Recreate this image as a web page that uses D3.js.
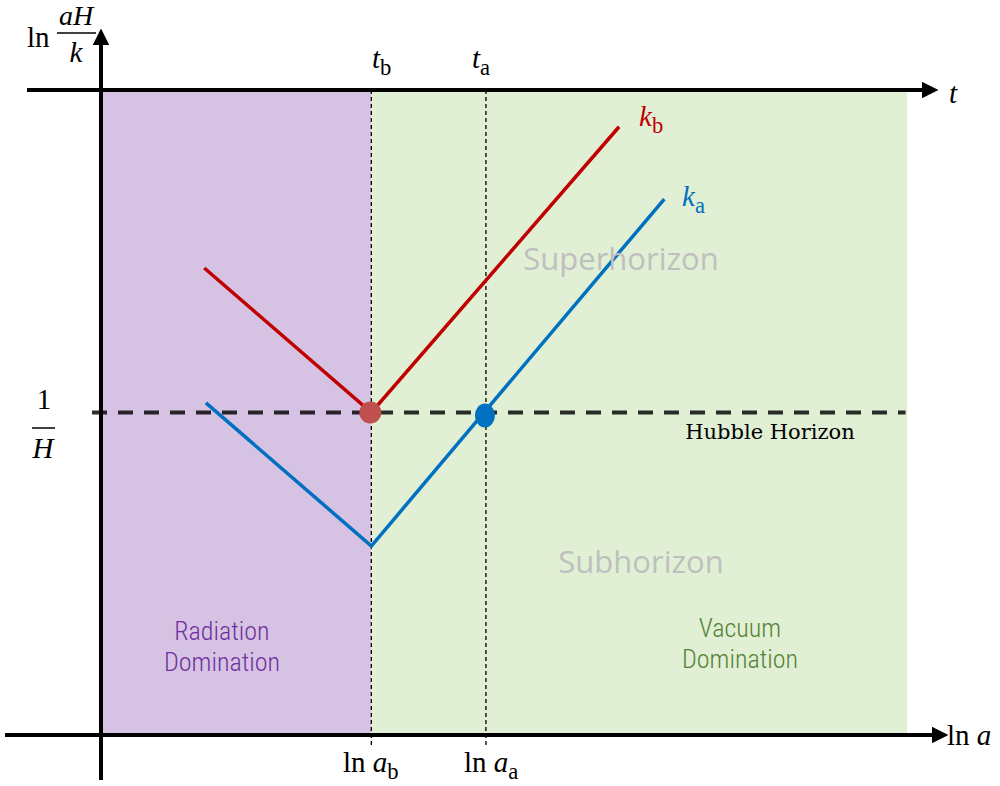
<!DOCTYPE html>
<html>
<head>
<meta charset="utf-8">
<script src="https://cdn.jsdelivr.net/npm/d3@7"></script>
<style>
  body { margin: 0; background: #fff; }
  svg text { font-family: "Liberation Serif", serif; }
</style>
</head>
<body>
<div id="chart"></div>
<script>
// conceptual coordinates: x = ln a, y = ln(aH/k)
const lnAb = 3.35;
const lnAa = 4.77;
const hubble = 5;

const kbX = [1.28, 3.35, 6.42];
const kbY = [7.24, 5.0, 9.43];
const kaX = [1.30, 3.35, 6.98];
const kaY = [5.15, 2.93, 8.31];

const regions = [
  { name: "rad", from: 0, to: lnAb, fill: "#d6c2e3" },
  { name: "vac", from: lnAb, to: 9.99, fill: "#e1efd4" }
];

const width = 1000, height = 786;

const x = d3.scaleLinear().domain([0, 10]).range([101, 908]);
const y = d3.scaleLinear().domain([0, 10]).range([735, 90]);

const svg = d3.select('#chart').append('svg')
  .attr('width', width)
  .attr('height', height);

const defs = svg.append('defs');
defs.append('marker')
  .attr('id', 'arrow')
  .attr('viewBox', '0 0 10 10')
  .attr('refX', 2).attr('refY', 5)
  .attr('markerWidth', 4.2).attr('markerHeight', 4.2)
  .attr('orient', 'auto')
  .append('path').attr('d', 'M0,0 L10,5 L0,10 z').attr('fill', '#000');

// background regions
svg.append('g').selectAll('rect')
  .data(regions)
  .enter().append('rect')
  .attr('x', d => x(d.from))
  .attr('y', y(10))
  .attr('width', d => x(d.to) - x(d.from))
  .attr('height', y(0) - y(10))
  .attr('fill', d => d.fill);

// vertical dashed guides
svg.append('g').selectAll('line')
  .data([lnAb, lnAa])
  .enter().append('line')
  .attr('x1', d => x(d)).attr('x2', d => x(d))
  .attr('y1', y(10)).attr('y2', y(0) + 12)
  .attr('stroke', '#000')
  .attr('stroke-width', 1.3)
  .attr('stroke-dasharray', '4,3');

// hubble horizon
svg.append('line')
  .attr('x1', x(0) - 9).attr('x2', x(9.97))
  .attr('y1', y(hubble)).attr('y2', y(hubble))
  .attr('stroke', '#000')
  .attr('stroke-opacity', 0.82)
  .attr('stroke-width', 4)
  .attr('stroke-dasharray', '15,11');

// axes
const axes = svg.append('g').attr('stroke', '#000').attr('stroke-width', 4);
axes.append('line')
  .attr('x1', x(0)).attr('y1', 780).attr('x2', x(0)).attr('y2', 42)
  .attr('marker-end', 'url(#arrow)');
axes.append('line')
  .attr('x1', 27).attr('y1', y(10)).attr('x2', 925).attr('y2', y(10))
  .attr('marker-end', 'url(#arrow)');
axes.append('line')
  .attr('x1', 5).attr('y1', y(0)).attr('x2', 935).attr('y2', y(0))
  .attr('marker-end', 'url(#arrow)');

// k lines
const line = d3.line().x(d => x(d[0])).y(d => y(d[1]));
const series = [
  { name: 'b', xs: kbX, ys: kbY, color: '#c00000' },
  { name: 'a', xs: kaX, ys: kaY, color: '#0070c0' }
];
svg.append('g').selectAll('path')
  .data(series)
  .enter().append('path')
  .attr('d', d => line(d.xs.map((v, i) => [v, d.ys[i]])))
  .attr('fill', 'none')
  .attr('stroke', d => d.color)
  .attr('stroke-width', 3.5);

// crossing points
svg.append('ellipse')
  .attr('cx', x(lnAb) - 1).attr('cy', y(hubble))
  .attr('rx', 11).attr('ry', 11)
  .attr('fill', '#c0504d');
svg.append('ellipse')
  .attr('cx', x(lnAa) - 1).attr('cy', y(hubble) + 3)
  .attr('rx', 10).attr('ry', 12)
  .attr('fill', '#0070c0');

// math labels
function mathLabel(px, py, base, sub, color, size) {
  const s = size || 29;
  const t = svg.append('text')
    .attr('x', px).attr('y', py)
    .attr('fill', color || '#000')
    .style('font-size', s + 'px');
  base.forEach(p => {
    t.append('tspan').text(p.t).style('font-style', p.i ? 'italic' : 'normal');
  });
  if (sub) {
    t.append('tspan').text(sub)
      .attr('dy', 7)
      .style('font-size', (s * 0.78) + 'px');
  }
  return t;
}

mathLabel(372, 68, [{ t: 't', i: true }], 'b');
mathLabel(472, 68, [{ t: 't', i: true }], 'a');
mathLabel(949, 103, [{ t: 't', i: true }], null);
mathLabel(947, 745, [{ t: 'ln ' }, { t: 'a', i: true }], null);
mathLabel(343, 772, [{ t: 'ln ' }, { t: 'a', i: true }], 'b');
mathLabel(464, 772, [{ t: 'ln ' }, { t: 'a', i: true }], 'a');
mathLabel(639, 126, [{ t: 'k', i: true }], 'b', '#c00000');
mathLabel(682, 206, [{ t: 'k', i: true }], 'a', '#0070c0');

// y label ln(aH/k)
svg.append('text').attr('x', 27).attr('y', 47).style('font-size', '29px').text('ln');
svg.append('text').attr('x', 76).attr('y', 25).attr('text-anchor', 'middle')
  .style('font-size', '28px').style('font-style', 'italic').text('aH');
svg.append('line').attr('x1', 57).attr('x2', 96).attr('y1', 33).attr('y2', 33)
  .attr('stroke', '#000').attr('stroke-width', 1.5);
svg.append('text').attr('x', 76).attr('y', 62).attr('text-anchor', 'middle')
  .style('font-size', '29px').style('font-style', 'italic').text('k');

// 1/H label
svg.append('text').attr('x', 44).attr('y', 409).attr('text-anchor', 'middle')
  .style('font-size', '29px').text('1');
svg.append('line').attr('x1', 32).attr('x2', 55).attr('y1', 428).attr('y2', 428)
  .attr('stroke', '#000').attr('stroke-width', 1.5);
svg.append('text').attr('x', 43).attr('y', 458).attr('text-anchor', 'middle')
  .style('font-size', '29px').style('font-style', 'italic').text('H');

// region texts
const sans = '"Open Sans", Lato, sans-serif';
svg.append('text').attr('x', 770).attr('y', 439).attr('text-anchor', 'middle')
  .style('font-family', '"DejaVu Serif", serif')
  .style('font-size', '21px').text('Hubble Horizon');
svg.append('text').attr('x', 621).attr('y', 270).attr('text-anchor', 'middle')
  .style('font-family', sans).style('font-size', '31px').attr('fill', '#bfbfbf')
  .text('Superhorizon');
svg.append('text').attr('x', 641).attr('y', 573).attr('text-anchor', 'middle')
  .style('font-family', sans).style('font-size', '31px').attr('fill', '#bfbfbf')
  .text('Subhorizon');

const eras = [
  { lines: ['Radiation', 'Domination'], cx: 222, y0: 640, color: '#7030a0' },
  { lines: ['Vacuum', 'Domination'], cx: 740, y0: 637, color: '#548235' }
];
eras.forEach(e => {
  e.lines.forEach((s, i) => {
    svg.append('text').attr('x', e.cx).attr('y', e.y0 + i * 31)
      .attr('text-anchor', 'middle')
      .style('font-family', '"Liberation Sans Narrow", "Roboto Condensed", sans-serif')
      .style('font-weight', 300)
      .style('font-size', '26px')
      .attr('fill', e.color)
      .text(s);
  });
});
</script>
</body>
</html>
